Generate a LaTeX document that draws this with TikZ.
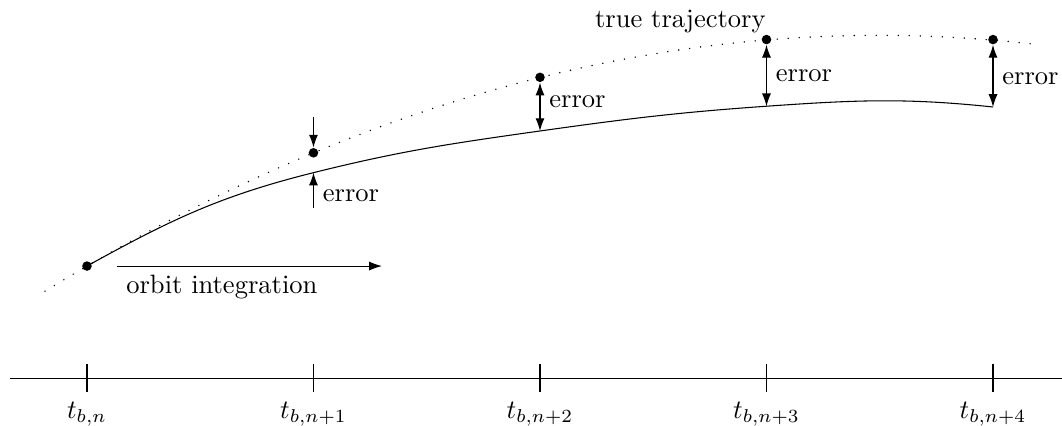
\documentclass[tikz,border=0pt]{standalone}
\usepackage{tikz}
\usetikzlibrary{arrows.meta,positioning,calc}
\usepackage{amsmath,amssymb}

\begin{document}
\begin{tikzpicture}[>={Latex[length=4.8pt,width=3.4pt]},
    trajdot/.style={circle,fill,inner sep=0pt,minimum size=3.6pt},
    truepath/.style={line width=0.6pt,line cap=round,dash pattern=on 0pt off 4.15pt}]
        \useasboundingbox (-1.152,-0.623) rectangle (12.914,5.007);

        % Time axis
        \coordinate (axl) at (-1.02,0);
        \coordinate (axr) at (12.914,0);
        \draw (axl) -- (axr);
        \foreach \i/\lab in {0/{n},1/{n+1},2/{n+2},3/{n+3},4/{n+4}} {
          \coordinate (tick\i) at (3*\i,0.19);
          \draw (tick\i) -- ++(0,-0.38) node[below] (tlab\i) {$t_{b,\lab}$};
        }

        % True trajectory
        \draw[truepath] plot[domain=-0.556:12.56,samples=90] (\x,{1.483+0.583*\x-0.0278*\x*\x});
        \node[trajdot] (p0) at (0,1.483) {};
        \node[trajdot] (p1) at (3,2.983) {};
        \node[trajdot] (p2) at (6,3.983) {};
        \node[trajdot] (p3) at (9,4.483) {};
        \node[trajdot] (p4) at (12,4.483) {};
        \node (trajlabel) at (7.86,4.72) {true trajectory};

        % Integrated orbit
        \coordinate (c1) at (3,2.72);
        \coordinate (c2) at (6,3.272);
        \coordinate (c3) at (9,3.60);
        \coordinate (c4) at (12,3.59);
        \draw (p0.center) to[out=29,in=-166] (c1) to[out=14,in=-172] (c2)
          to[out=8,in=-176] (c3) to[out=4,in=174] (c4);

        % Errors
        \coordinate (e1top) at (3,3.457);
        \coordinate (e1bot) at (3,2.25);
        \draw[->] (e1top) -- (p1);
        \draw[->] (e1bot) -- node[right,pos=0.35] (err1) {error} (c1);
        \draw[<->] (p2) -- node[right,pos=0.4] (err2) {error} (c2);
        \draw[<->] (p3) -- node[right,pos=0.5] (err3) {error} (c3);
        \draw[<->] (p4) -- node[right,pos=0.55] (err4) {error} (c4);

        % Orbit integration
        \coordinate (oistart) at (0.397,1.483);
        \coordinate (oiend) at (3.907,1.483);
        \draw[->] (oistart) -- (oiend);
        \node[below right] (oilabel) at (oistart) {orbit integration};
\end{tikzpicture}
\end{document}
